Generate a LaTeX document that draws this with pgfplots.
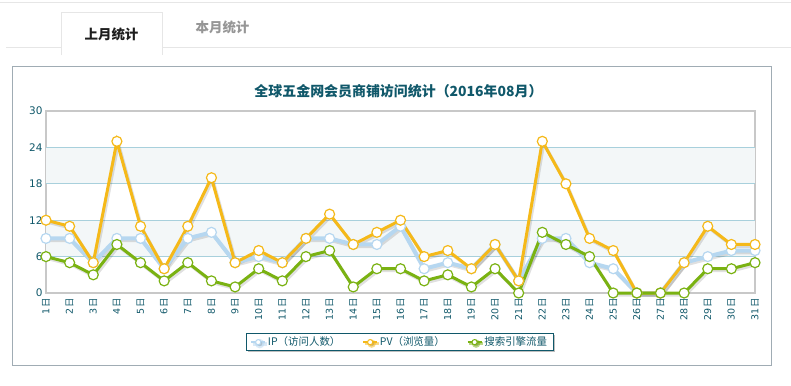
\documentclass[border=0pt]{standalone}
\usepackage{pgfplots}
\pgfplotsset{compat=1.18}
\usepackage{pgfplotstable}
\usepackage{fontspec}
\setmainfont{DejaVu Sans}
\newfontfamily\cjk{Noto Sans CJK SC}
\usetikzlibrary{shadows}
\definecolor{ipc}{RGB}{182,215,240}
\definecolor{pvc}{RGB}{245,185,25}
\definecolor{sec}{RGB}{122,178,18}
\definecolor{teal1}{RGB}{16,88,106}
\definecolor{gridc}{RGB}{168,208,220}
\definecolor{bandc}{RGB}{243,247,248}
\definecolor{framec}{RGB}{200,200,200}
\definecolor{panelc}{RGB}{160,172,180}
\definecolor{tabline}{RGB}{230,230,230}

\pgfplotstableread{
day ip pv se
1 9 12 6
2 9 11 5
3 5 5 3
4 9 25 8
5 9 11 5
6 4 4 2
7 9 11 5
8 10 19 2
9 5 5 1
10 6 7 4
11 5 5 2
12 9 9 6
13 9 13 7
14 8 8 1
15 8 10 4
16 11 12 4
17 4 6 2
18 5 7 3
19 4 4 1
20 8 8 4
21 2 2 0
22 9 25 10
23 9 18 8
24 5 9 6
25 4 7 0
26 0 0 0
27 0 0 0
28 5 5 0
29 6 11 4
30 7 8 4
31 7 8 5
}\data

\begin{document}
\begin{tikzpicture}
\begin{scope}[x=1bp,y=-1bp]
\path[use as bounding box, fill=white] (0,0) rectangle (791,385);
% tabs
\draw[tabline, line width=1bp] (0,2) -- (791,2);
\draw[tabline, line width=1bp] (6,47) -- (61,47);
\draw[tabline, line width=1bp] (162,47) -- (791,47);
\draw[tabline, line width=1bp] (61,55) -- (61,12) -- (162,12) -- (162,55);
\node[text={rgb,255:red,30;green,30;blue,30}, font=\cjk\bfseries\fontsize{13.5}{14}\selectfont] at (111.5,34) {上月统计};
\node[text={rgb,255:red,150;green,150;blue,150}, font=\cjk\bfseries\fontsize{13.5}{14}\selectfont] at (222.5,27) {本月统计};
% panel
\draw[panelc, line width=1bp] (12,66) rectangle (771,365);
\node[text=teal1, font=\cjk\bfseries\fontsize{14}{15}\selectfont] at (398.5,91) {全球五金网会员商铺访问统计（2016年08月）};
\end{scope}

\begin{axis}[
  at={(46bp,-293bp)}, anchor=south west,
  scale only axis, width=709bp, height=182bp,
  xmin=1, xmax=31, ymin=0, ymax=30,
  xtick={1,...,31}, ytick={0,6,...,30},
  major tick length=0pt,
  clip=false,
  axis line style={framec, line width=2bp},
  yticklabel style={text=teal1, font=\fontsize{10.5}{11}\selectfont},
  /pgf/number format/assume math mode=true,
  xticklabel={\pgfmathtruncatemacro{\dd}{\tick}\dd{\cjk 日}},
  xticklabel style={rotate=90, anchor=east, text=teal1, font=\fontsize{9.5}{10}\selectfont, xshift=-2bp},
  legend columns=3,
  legend style={at={(axis description cs:0.499,-0.27)}, anchor=center,
    draw=teal1, line width=1bp, fill=white, text=teal1,
    font=\cjk\fontsize{10.5}{11}\selectfont,
    drop shadow={shadow xshift=1.5bp, shadow yshift=-1.5bp, opacity=0.5},
    inner sep=1.5bp, inner xsep=4bp,
    /tikz/every even column/.append style={column sep=20bp}},
  legend image code/.code={\draw[line width=1.5bp] (0bp,0bp) -- (14bp,0bp); \draw[line width=1bp, fill=white] (7bp,0bp) circle (2.6bp);},
]
\fill[bandc] (axis cs:1,6) rectangle (axis cs:31,12);
\fill[bandc] (axis cs:1,18) rectangle (axis cs:31,24);
\foreach \g in {6,12,18,24} {\edef\tmp{\noexpand\draw[gridc, line width=0.8bp] (axis cs:1,\g) -- (axis cs:31,\g);}\tmp}
% shadows
\addplot[forget plot, black, opacity=0.12, line width=3.5bp, xshift=1.5bp, yshift=-2bp] table[x=day,y=ip]{\data};
\addplot[forget plot, black, opacity=0.12, line width=3bp, xshift=1.5bp, yshift=-2bp] table[x=day,y=pv]{\data};
\addplot[forget plot, black, opacity=0.12, line width=3bp, xshift=1.5bp, yshift=-2bp] table[x=day,y=se]{\data};
% series
\addplot[ipc, line width=4bp, mark=*, mark size=5bp, mark options={fill=white, draw=ipc, line width=1.2bp}] table[x=day,y=ip]{\data};
\addlegendentry{IP（访问人数）}
\addplot[pvc, line width=3bp, mark=*, mark size=5bp, mark options={fill=white, draw=pvc, line width=1.2bp}] table[x=day,y=pv]{\data};
\addlegendentry{PV（浏览量）}
\addplot[sec, line width=3bp, mark=*, mark size=5bp, mark options={fill=white, draw=sec, line width=1.2bp}] table[x=day,y=se]{\data};
\addlegendentry{搜索引擎流量}
\end{axis}
\end{tikzpicture}
\end{document}
